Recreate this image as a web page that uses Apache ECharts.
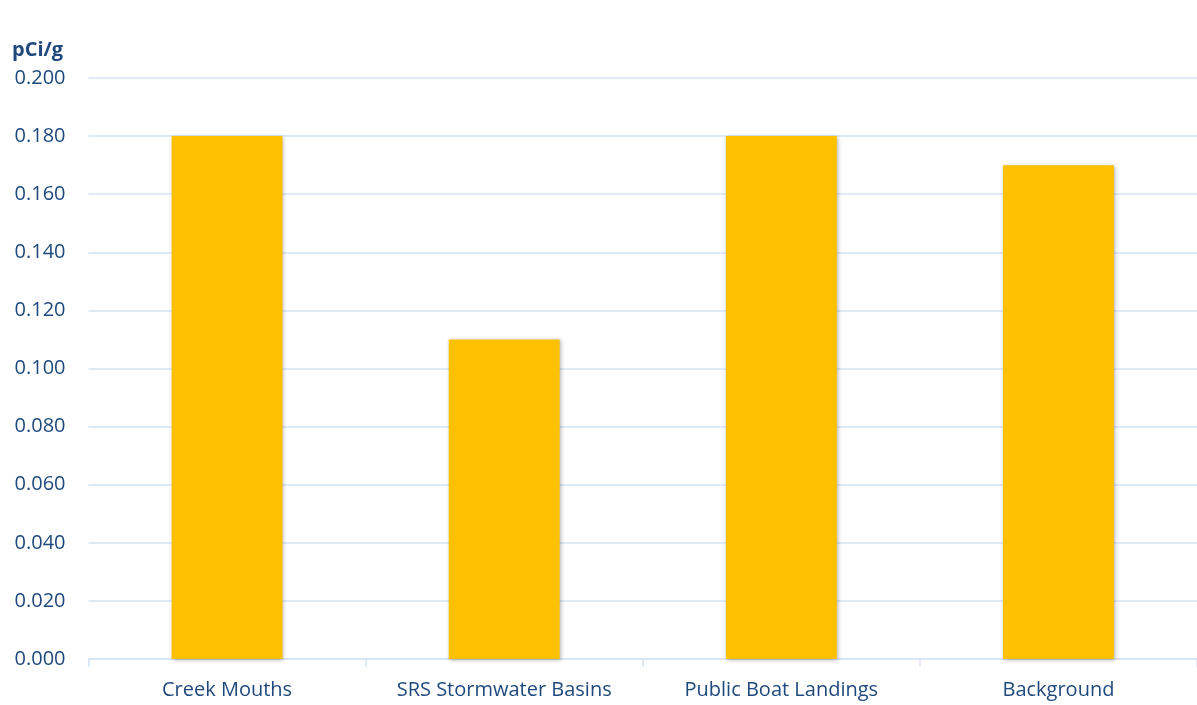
<!DOCTYPE html>
<html><head><meta charset="utf-8">
<script src="https://cdn.jsdelivr.net/npm/echarts@6/dist/echarts.min.js"></script>
<style>html,body{margin:0;padding:0;background:#fff}#c{width:1197px;height:705px}</style>
</head><body><div id="c"></div>
<script>
const categories = ['Creek Mouths', 'SRS Stormwater Basins', 'Public Boat Landings', 'Background'];
const values = [0.18, 0.11, 0.18, 0.17];
const unitLabel = 'pCi/g';

const textColor = '#1F497D';
const lineColor = '#D6E3F3';
const font = 'Open Sans';

const chart = echarts.init(document.getElementById('c'), null, {renderer: 'canvas'});
chart.setOption({
  animation: false,
  backgroundColor: '#fff',
  title: {
    text: unitLabel, left: 7, top: 35,
    textStyle: {fontFamily: font, fontSize: 20, fontWeight: 'bold', color: textColor}
  },
  grid: {left: 88.5, right: -5, top: 78, bottom: 46, containLabel: false},
  xAxis: {
    type: 'category', data: categories,
    axisLine: {lineStyle: {color: lineColor, width: 1.5}},
    axisTick: {show: true, interval: 0, length: 8, lineStyle: {color: lineColor, width: 1.5}},
    axisLabel: {interval: 0, color: textColor, fontFamily: font, fontSize: 20, margin: 21}
  },
  yAxis: {
    type: 'value', min: 0, max: 0.2, interval: 0.02,
    axisLine: {show: false}, axisTick: {show: false},
    splitLine: {lineStyle: {color: lineColor, width: 1.5}},
    axisLabel: {color: textColor, fontFamily: font, fontSize: 20, margin: 23,
      formatter: v => v.toFixed(3)}
  },
  series: [{
    type: 'bar', data: values, barWidth: '40%',
    itemStyle: {color: '#FFC000', shadowColor: 'rgba(0,0,0,0.3)', shadowBlur: 4, shadowOffsetX: 1, shadowOffsetY: 1}
  }]
});
</script></body></html>
